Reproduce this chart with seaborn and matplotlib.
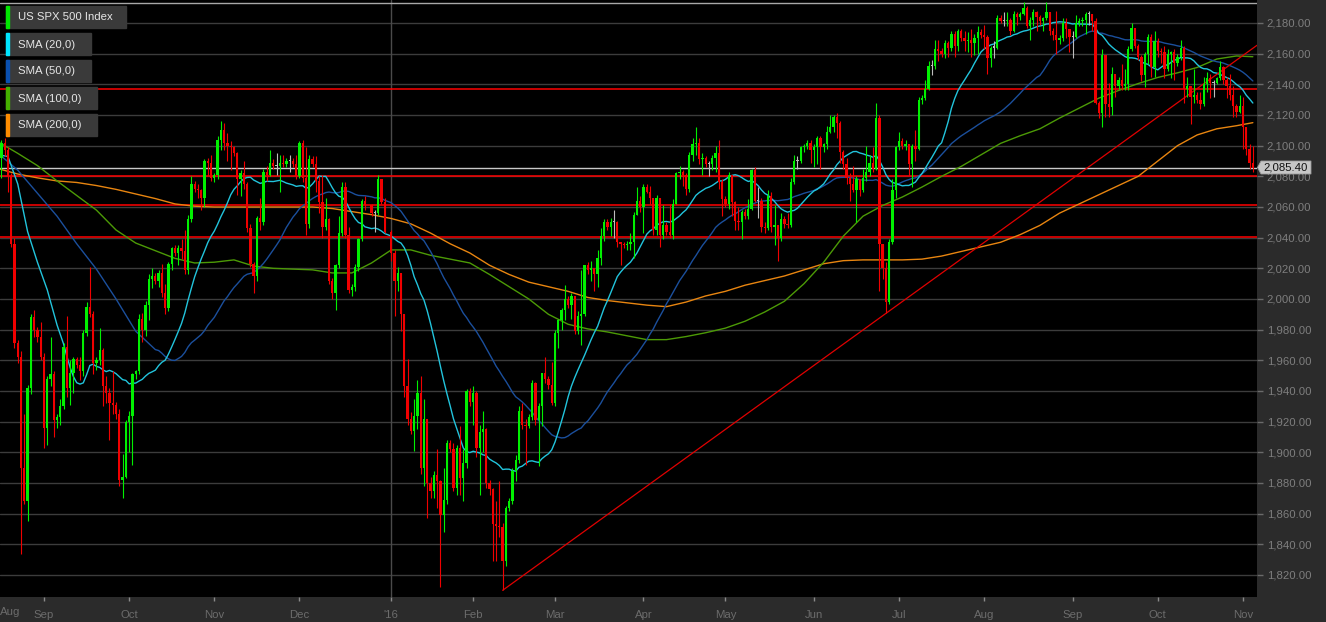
import numpy as np
import pandas as pd
import matplotlib
matplotlib.use("Agg")
import matplotlib.pyplot as plt
from matplotlib.patches import Rectangle, Polygon
import seaborn as sns

nan = float("nan")

# ---------------- data ----------------
week_start = "2015-08-16"      # first Sunday; every week holds Sun..Fri sessions
n_weeks = 64

# daily OHLC, one row per week (Sun, Mon, Tue, Wed, Thu, Fri); nan = market closed
opens = [
 2091,2092,2102,2097,2080,2036, 1971,1962,1890,1868,1942,1988, 1980,1975,1962,1916,1948,1951,
 1921,1923,1930,1969,1942,1952, 1961,1957,1953,1978,1995,1990, 1958,1960,1967,1943,1939,1932,
 1931,1925,1882,1884,1920,1924, 1951,1953,1987,1980,1996,2013, 2015,2012,2017,2004,1994,2023,
 2033,2030,2033,2031,2019,2052, 2075,2072,2071,2066,2090,2089, 2079,2081,2104,2110,2102,2100,
 2099,2095,2078,2082,2075,2046, 2023,2015,2053,2050,2083,2081, 2089,2087,2087,2089,2088,2090,
 2090,2088,2080,2102,2079,2049, 2091,2088,2077,2063,2047,2052, 2012,2004,2022,2043,2073,2042,
 2006,2008,2021,2039,2064,nan,  2061,2056,2056,2078,2063,nan,  2044,2030,2012,2017,1990,1943,
 1922,1914,1924,1939,1890,1922, 1880,1875,1885,1881,1859,1869, 1906,1902,1877,1903,1883,1893,
 1940,1933,1939,1903,1913,1915, 1880,1876,1853,1852,1851,1829, 1864,1868,1888,1895,1927,1918,
 1917,1923,1945,1921,1930,1952, 1948,1944,1932,1978,1986,1993, 2000,1996,2002,1979,1989,1990,
 2022,2019,2020,2016,2027,2041, 2050,2047,2050,2050,2037,2036, 2035,2036,2037,2055,2064,2060,
 2073,2070,2066,2045,2066,2042, 2048,2044,2042,2062,2082,2083, 2081,2072,2094,2101,2102,2091,
 2092,2088,2088,2092,2095,2076, 2065,2062,2081,2063,2051,2050, 2057,2054,2059,2084,2064,2064,
 2047,2046,2067,2047,2048,2040, 2052,2049,2048,2076,2090,2090, 2099,2100,2102,2097,2099,2105,
 2099,2101,2109,2112,2119,2115, 2096,2088,2079,2075,2071,2078, 2071,2079,2083,2089,2085,2118,
 2036,2020,1998,2037,2071,2099, 2103,2100,2101,2088,2100,2098, 2130,2131,2137,2152,2152,2163,
 2162,2160,2167,2164,2173,2165, 2175,2170,2168,2169,2167,2170, 2174,2172,2171,2157,2164,2164,
 2183,2181,2181,2182,2175,2186, 2184,2186,2190,2178,2182,2187, 2184,2181,2183,2187,2175,2172,
 2169,2170,2180,2176,2171,2171, 2180,2181,2182,2186,2186,2181, 2128,2121,2159,2127,2125,2147,
 2139,2143,2139,2140,2163,2177, 2165,2158,2146,2160,2171,2151, 2168,2162,2161,2150,2160,2161,
 2154,2158,2164,2137,2139,2132, 2133,2130,2127,2140,2144,2141, 2141,2144,2151,2143,2139,2133,
 2126,2122,2126,2112,2098,2089,
]
highs = [
 2093,2104,2105,2099,2082,2040, 1973,1966,1925,1944,1990,1993, 1982,1985,1965,1950,1975,1953,
 1925,1935,1971,1989,1960,1962, 1962,1962,1980,1998,2021,1992, 1962,1981,1968,1950,1942,1953,
 1933,1928,1899,1921,1927,1952, 1954,1990,1991,1999,2016,2020, 2017,2019,2023,2010,2024,2034,
 2035,2035,2039,2045,2055,2080, 2077,2075,2072,2091,2092,2094, 2082,2106,2116,2115,2108,2103,
 2100,2096,2084,2090,2076,2049, 2024,2054,2066,2085,2087,2097, 2091,2095,2094,2094,2092,2094,
 2092,2094,2103,2104,2099,2094, 2093,2093,2080,2081,2066,2053, 2014,2023,2054,2076,2076,2047,
 2010,2023,2040,2065,2067,nan,  2062,2058,2081,2078,2066,nan,  2045,2032,2021,2017,1990,1961,
 1926,1935,1947,1950,1935,1922, 1884,1888,1902,1882,1890,1908, 1908,1906,1905,1917,1902,1941,
 1942,1943,1940,1918,1927,1916, 1882,1877,1868,1881,1854,1865, 1870,1890,1898,1930,1932,1922,
 1925,1947,1946,1932,1952,1962, 1950,1959,1980,1987,1994,2009, 2002,2004,2002,1992,2019,2022,
 2024,2025,2020,2032,2046,2052, 2052,2053,2058,2051,2037,2037, 2038,2043,2057,2073,2067,2075,
 2075,2074,2066,2068,2066,2061, 2050,2062,2065,2083,2087,2084, 2082,2096,2105,2112,2105,2095,
 2093,2090,2094,2100,2104,2078, 2067,2083,2081,2064,2060,2058, 2059,2065,2085,2086,2073,2066,
 2050,2071,2070,2061,2048,2056, 2054,2056,2079,2094,2093,2100, 2101,2104,2104,2101,2106,2106,
 2102,2113,2120,2120,2121,2116, 2097,2092,2082,2087,2080,2078, 2085,2100,2094,2099,2128,2120,
 2036,2024,2039,2078,2100,2109, 2105,2104,2101,2101,2110,2132, 2133,2143,2155,2156,2169,2169,
 2164,2169,2168,2175,2175,2176, 2176,2175,2174,2176,2173,2178, 2176,2179,2172,2165,2168,2185,
 2185,2187,2187,2183,2188,2187, 2187,2194,2191,2184,2189,2188, 2185,2184,2194,2187,2177,2188,
 2172,2183,2183,2176,2175,2185, 2183,2184,2187,2188,2186,2183, 2129,2163,2159,2141,2151,2147,
 2145,2153,2150,2165,2180,2177, 2166,2159,2161,2173,2173,2175, 2170,2164,2165,2163,2162,2163,
 2160,2169,2165,2145,2139,2150, 2135,2135,2145,2148,2147,2143, 2145,2155,2152,2145,2147,2139,
 2127,2133,2132,2112,2101,2100,
]
lows = [
 2089,2079,2093,2070,2034,1968, 1958,1834,1866,1855,1938,1975, 1972,1960,1903,1905,1943,1910,
 1916,1918,1928,1936,1931,1939, 1955,1947,1950,1976,1988,1951, 1954,1957,1930,1932,1908,1925,
 1922,1878,1870,1883,1900,1892, 1948,1951,1972,1976,1986,2007, 2010,2008,2001,1990,1992,2019,
 2028,2022,2026,2016,2016,2050, 2070,2066,2058,2060,2080,2077, 2076,2078,2097,2097,2090,2084,
 2093,2068,2067,2072,2044,2021, 2004,2012,2045,2048,2077,2080, 2085,2081,2070,2086,2086,2083,
 2086,2078,2079,2076,2042,2046, 2086,2070,2056,2040,2045,2010, 2000,1993,2020,2041,2040,2004,
 2002,2005,2018,2038,2058,nan,  2054,2044,2055,2062,2043,nan,  2025,1989,2005,1979,1936,1918,
 1912,1901,1915,1886,1878,1857, 1870,1870,1864,1812,1848,1866, 1900,1875,1872,1872,1868,1890,
 1930,1918,1897,1872,1900,1877, 1872,1829,1829,1845,1810,1826, 1862,1866,1881,1893,1915,1892,
 1916,1921,1918,1891,1917,1945, 1941,1931,1930,1968,1980,1986, 1994,1987,1977,1977,1970,1989,
 2016,2012,2005,2008,2022,2038, 2045,2041,2040,2034,2022,2033, 2032,2032,2027,2055,2057,2043,
 2069,2062,2042,2042,2034,2039, 2042,2040,2039,2062,2078,2074, 2068,2070,2090,2094,2088,2081,
 2086,2080,2084,2083,2072,2054, 2060,2059,2054,2045,2045,2039, 2052,2052,2058,2063,2053,2044,
 2043,2045,2044,2035,2025,2038, 2046,2046,2047,2075,2085,2089, 2096,2098,2089,2086,2088,2085,
 2096,2098,2108,2109,2105,2089, 2085,2075,2064,2070,2050,2067, 2070,2077,2080,2083,2084,2005,
 2013,1991,1997,2036,2066,2097, 2098,2097,2080,2073,2090,2097, 2127,2130,2136,2146,2150,2155,
 2158,2157,2158,2162,2158,2162, 2168,2162,2161,2158,2159,2160, 2170,2163,2147,2151,2157,2163,
 2180,2178,2178,2172,2174,2179, 2182,2185,2177,2169,2178,2175, 2179,2175,2182,2172,2169,2160,
 2166,2168,2170,2161,2157,2170, 2178,2178,2173,2179,2175,2127, 2118,2112,2119,2119,2120,2132,
 2137,2136,2136,2136,2162,2164, 2156,2142,2138,2153,2145,2145, 2158,2154,2144,2149,2144,2143,
 2152,2156,2128,2132,2114,2128, 2128,2124,2126,2135,2131,2132, 2140,2143,2140,2131,2130,2119,
 2119,2121,2098,2094,2085,2083,
]
closes = [
 2092,2102,2097,2080,2036,1971, 1962,1890,1868,1942,1988,1980, 1975,1962,1916,1948,1951,1921,
 1923,1930,1969,1942,1952,1961, 1957,1953,1978,1995,1990,1958, 1960,1967,1943,1939,1932,1931,
 1925,1882,1884,1920,1924,1951, 1953,1987,1980,1996,2013,2015, 2012,2017,2004,1994,2023,2033,
 2030,2033,2031,2019,2052,2075, 2072,2071,2066,2090,2089,2079, 2081,2104,2110,2102,2100,2099,
 2095,2078,2082,2075,2046,2023, 2015,2053,2050,2083,2081,2089, 2087,2087,2089,2088,2090,2090,
 2088,2080,2102,2079,2049,2091, 2088,2077,2063,2047,2052,2012, 2004,2022,2043,2073,2042,2006,
 2008,2021,2039,2064,2061,nan,  2056,2056,2078,2063,2044,nan,  2030,2012,2017,1990,1943,1922,
 1914,1924,1939,1890,1922,1880, 1875,1885,1881,1859,1869,1906, 1902,1877,1903,1883,1893,1940,
 1933,1939,1903,1913,1915,1880, 1876,1853,1852,1851,1829,1864, 1868,1888,1895,1927,1918,1917,
 1923,1945,1921,1930,1952,1948, 1944,1932,1978,1986,1993,2000, 1996,2002,1979,1989,1990,2022,
 2019,2020,2016,2027,2041,2050, 2047,2050,2050,2037,2036,2035, 2036,2037,2055,2064,2060,2073,
 2070,2066,2045,2066,2042,2048, 2044,2042,2062,2082,2083,2081, 2072,2094,2101,2102,2091,2092,
 2088,2088,2092,2095,2076,2065, 2062,2081,2063,2051,2050,2057, 2054,2059,2084,2064,2064,2047,
 2046,2067,2047,2048,2040,2052, 2049,2048,2076,2090,2090,2099, 2100,2102,2097,2099,2105,2099,
 2101,2109,2112,2119,2115,2096, 2088,2079,2075,2071,2078,2071, 2079,2083,2089,2085,2118,2036,
 2020,1998,2037,2071,2099,2103, 2100,2101,2088,2100,2098,2130, 2131,2137,2152,2152,2163,2162,
 2160,2167,2164,2173,2165,2175, 2170,2168,2169,2167,2170,2174, 2172,2171,2157,2164,2164,2183,
 2181,2181,2182,2175,2186,2184, 2186,2190,2178,2182,2187,2184, 2181,2183,2187,2175,2172,2169,
 2170,2180,2176,2171,2171,2180, 2181,2182,2186,2186,2181,2128, 2121,2159,2127,2125,2147,2139,
 2143,2139,2140,2163,2177,2165, 2158,2146,2160,2171,2151,2168, 2162,2161,2150,2160,2161,2154,
 2158,2164,2137,2139,2132,2133, 2130,2127,2140,2144,2141,2141, 2144,2151,2143,2139,2133,2126,
 2122,2126,2112,2098,2089,2085.4,
]

# moving averages
# start of SMA20 / SMA50 (before enough sessions are on the chart)
sma20_head_step = 3
sma20_head = [2094, 2093, 2075, 2044, 2024, 2006, 1983]             # sessions 0,3,...,18
sma50_head_step = 6
sma50_head = [2095, 2084, 2069, 2054, 2036, 2019.5, 2000, 1979, 1967]  # sessions 0,6,...,48
# SMA100 / SMA200, one value every 6 sessions (each Sunday) + last session
sma_step = 6
sma100 = [2102.5, 2095, 2087, 2077, 2067.5, 2058, 2045, 2036.5, 2031.5, 2026.5, 2023.5, 2024,
          2025.5, 2021.5, 2020, 2019.5, 2019, 2017, 2017, 2023.5, 2032, 2032, 2028.5, 2026,
          2023.5, 2016, 2008, 2000, 1990, 1983.5, 1980.5, 1978.5, 1976, 1973.5, 1973.5, 1975.5,
          1978, 1981, 1985.5, 1991.5, 1998.5, 2010, 2024, 2041, 2054, 2061, 2066.5, 2073, 2080,
          2086.5, 2094, 2101.5, 2106.5, 2111, 2118, 2124.5, 2131, 2136, 2140.5, 2144.5, 2147.5,
          2151, 2156.5, 2158.5, 2158]
sma200 = [2085, 2081.5, 2079, 2077, 2076, 2074, 2071.5, 2068.5, 2065.5, 2062, 2060.5, 2060,
          2060, 2060, 2060, 2060, 2060, 2059, 2057, 2055, 2052.5, 2049, 2043, 2036, 2030, 2022,
          2016, 2011, 2008, 2005, 2001, 1999, 1997.5, 1996, 1995, 1998, 2002, 2005, 2009, 2012,
          2015, 2019, 2023, 2025, 2025.5, 2025.5, 2025.5, 2026, 2028, 2031, 2034, 2037, 2042,
          2048, 2056, 2062, 2068, 2074, 2080, 2090, 2100, 2107, 2111, 2113, 2115]

red_levels = [2137.0, 2080.5, 2061.5, 2040.5]
last_price = 2085.40
top_level = 2193.0
trend_points = [("2016-02-11", 1810.0), ("2016-11-04", 2163.5)]
y_ticks = list(range(1820, 2181, 20))
legend_items = [("US SPX 500 Index", "#00e600"), ("SMA (20,0)", "#00e5ff"),
                ("SMA (50,0)", "#0a50b0"), ("SMA (100,0)", "#45b000"),
                ("SMA (200,0)", "#ff8c00")]
sma_colors = {"20": "#22c4dc", "50": "#1b4f9c", "100": "#4c9a06", "200": "#e88510"}

# ---------------- build frames ----------------
base = pd.Timestamp(week_start)
dates = pd.DatetimeIndex([base + pd.Timedelta(days=7 * w + d)
                          for w in range(n_weeks) for d in range(6)])
df = pd.DataFrame({"date": dates, "open": opens, "high": highs,
                   "low": lows, "close": closes})
df["slot"] = np.arange(len(df))
valid = df.dropna().copy()

close_by_slot = valid.set_index("slot")["close"]
roll20 = close_by_slot.rolling(20).mean().dropna()
roll50 = close_by_slot.rolling(50).mean().dropna()
s20 = pd.concat([pd.Series(sma20_head, index=range(0, len(sma20_head) * sma20_head_step, sma20_head_step)), roll20])
s50 = pd.concat([pd.Series(sma50_head, index=range(0, len(sma50_head) * sma50_head_step, sma50_head_step)), roll50])
long_slots = list(range(0, len(df), sma_step)) + [len(df) - 1]
s100 = pd.Series(sma100, index=long_slots)
s200 = pd.Series(sma200, index=long_slots)
sma_lines = {"200": s200, "100": s100, "50": s50, "20": s20}

# ---------------- style ----------------
W, H = 1326, 622
sns.set_theme(style="dark")
plt.rcParams["font.family"] = ["Liberation Sans", "DejaVu Sans"]
fig = plt.figure(figsize=(W / 100, H / 100), dpi=100, facecolor="#2b2b2b")
ax = fig.add_axes([0, 25 / H, 1257 / W, 597 / H])
ax.set_facecolor("#000000")
for s in ax.spines.values():
    s.set_visible(False)

x0 = 0.58
x1 = 384.27
ax.set_xlim(x0, x1)
ax.set_ylim(1805.65, 2195.0)

# grid
for yv in y_ticks:
    ax.axhline(yv, color="#3c3c3c", lw=1.0, zorder=1)
month_first = valid.groupby([valid.date.dt.year, valid.date.dt.month]).slot.min()
year_slot = month_first.loc[(2016, 1)]
ax.axvline(year_slot, color="#4a4a4a", lw=1.0, zorder=1)

# horizontal levels
ax.axhline(top_level, color="#a8a8a8", lw=1.0, zorder=2)
for lv in red_levels:
    ax.axhline(lv, color="#ff0000", lw=1.1, zorder=2)
ax.axhline(last_price, color="#c8c8c8", lw=1.0, zorder=2)

# moving averages
for key, ser in sma_lines.items():
    sns.lineplot(x=ser.index.to_numpy(), y=ser.to_numpy(), ax=ax, color=sma_colors[key],
                 lw=1.0, zorder=3, sort=False, legend=False)

# trend line
tp = [(int(df.loc[df.date == pd.Timestamp(d), "slot"].iloc[0]), v) for d, v in trend_points]
slope = (tp[1][1] - tp[0][1]) / (tp[1][0] - tp[0][0])
ax.plot([tp[0][0], x1], [tp[0][1], tp[0][1] + slope * (x1 - tp[0][0])],
        color="#e00000", lw=0.9, zorder=4)

# candles
up = valid.close > valid.open
dn = valid.close < valid.open
cols = np.where(up, "#00f000", np.where(dn, "#f00000", "#bdbdbd"))
ax.vlines(valid.slot, valid.low, valid.high, colors=cols, lw=0.8, zorder=5)
bottom = np.minimum(valid.open, valid.close)
height = np.maximum(np.abs(valid.close - valid.open), 0.7)
ax.bar(valid.slot, height, bottom=bottom, width=0.70, color=cols, linewidth=0, zorder=6)

# axes ticks
ax.yaxis.tick_right()
ax.set_yticks(y_ticks)
ax.set_yticklabels([f"{v:,.2f}" for v in y_ticks])
ax.tick_params(axis="y", which="both", length=4, width=1, color="#6a6a6a",
               labelcolor="#7e7e7e", labelsize=8.2, pad=3, right=True, left=False)

mlabels = []
mslots = []
for (yr, mo), sl in month_first.items():
    if sl < x0:
        continue
    mslots.append(sl)
    mlabels.append("'16" if (mo == 1) else pd.Timestamp(year=yr, month=mo, day=1).strftime("%b"))
ax.set_xticks(mslots)
ax.set_xticklabels(mlabels)
ax.tick_params(axis="x", which="both", length=3, width=1, color="#8a8a8a",
               labelcolor="#6c6c6c", labelsize=8.2, pad=6, bottom=True)
ax.text(0.0, -0.0245, "Aug", transform=ax.transAxes, ha="left", va="center",
        color="#6c6c6c", fontsize=8.2)
ax.set_xlabel("")
ax.set_ylabel("")
ax.grid(False)

# legend boxes (top-left)
def fx(px):
    return px / W

def fy(py):
    return 1 - py / H

box_w = [120, 85, 85, 91, 91]
box_top = [6, 33, 60, 87, 114]
for (label, col), bw, bt in zip(legend_items, box_w, box_top):
    fig.add_artist(Rectangle((fx(6), fy(bt + 22)), bw / W, 22 / H,
                             transform=fig.transFigure, color="#3a3a3a", zorder=10))
    fig.add_artist(Rectangle((fx(6), fy(bt + 22)), 2.7 / W, 22 / H,
                             transform=fig.transFigure, color=col, zorder=11))
    fig.text(fx(18), fy(bt + 11.5), label, color="#e6e6e6", fontsize=8.2,
             ha="left", va="center", zorder=12)

# last price tag
tag_y = 167.5
fig.add_artist(Polygon([(fx(1257.5), fy(tag_y)), (fx(1261), fy(tag_y - 6.5)),
                        (fx(1311), fy(tag_y - 6.5)), (fx(1311), fy(tag_y + 6.5)),
                        (fx(1261), fy(tag_y + 6.5))], closed=True,
                       transform=fig.transFigure, facecolor="#c6c6c6",
                       edgecolor="#9a9a9a", lw=0.6, zorder=10))
fig.text(fx(1286), fy(tag_y), f"{last_price:,.2f}", color="#111111", fontsize=8.2,
         ha="center", va="center", zorder=12)

fig.savefig("out.png", dpi=100, facecolor=fig.get_facecolor())
